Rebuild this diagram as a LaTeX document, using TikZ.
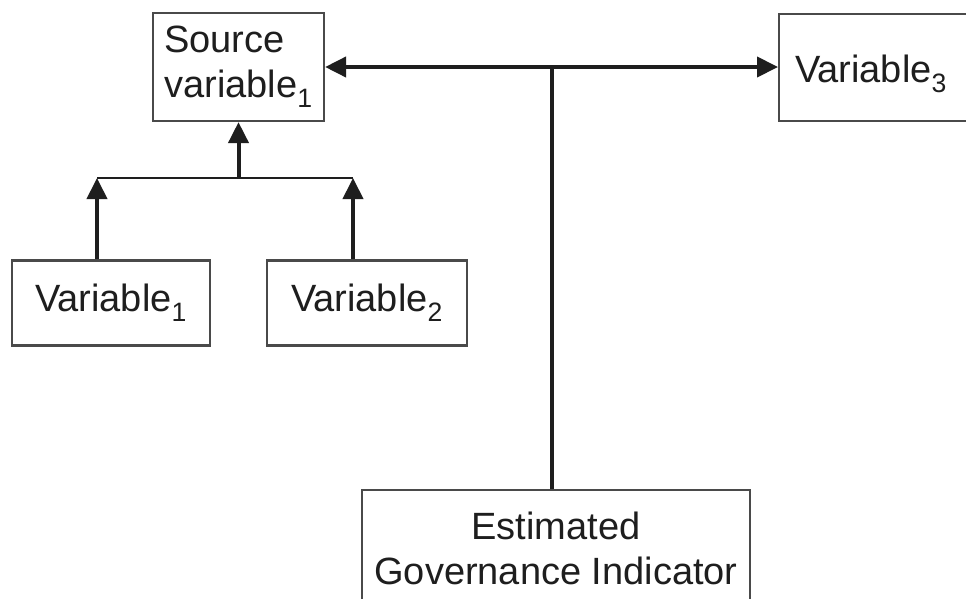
\documentclass[tikz,border=0pt]{standalone}
\usepackage{fontspec}
\setmainfont{Liberation Sans}
\usetikzlibrary{arrows.meta}
\definecolor{ink}{HTML}{1E1E1E}
\definecolor{frame}{HTML}{4A4A4A}
\tikzset{
  box/.style={draw=frame, line width=2.2pt, rectangle, inner sep=0pt,
    font=\fontsize{38}{45}\selectfont, text=ink},
  flow/.style={draw=ink, line width=4pt},
  thinflow/.style={draw=ink, line width=2.6pt},
  tip/.style={-{Triangle[length=21pt,width=20pt]}},
  tips/.style={{Triangle[length=21pt,width=20pt]}-{Triangle[length=21pt,width=20pt]}}
}
\begin{document}
\begin{tikzpicture}[x=1pt,y=-1pt]
\useasboundingbox[fill=white] (0,0) rectangle (966,598);

% boxes
\node[box, minimum width=171pt, minimum height=108pt, align=left] (src) at (238.5,67)
  {Source\\variable$_{\mathrm{1}}$};
\node[box, minimum width=198pt, minimum height=85pt] (v1) at (111,303)
  {Variable$_{\mathrm{1}}$};
\node[box, minimum width=200pt, minimum height=85pt] (v2) at (367,303)
  {Variable$_{\mathrm{2}}$};
\node[box, anchor=north west, inner xsep=16pt, text width=190pt, align=left,
  minimum height=107pt] (v3) at (778,13)
  {\raisebox{-6pt}[\height][\depth]{Variable$_{\mathrm{3}}$}};
\node[box, anchor=north, minimum width=388pt, minimum height=116pt, align=center]
  (egi) at (556,489) {Estimated\\Governance Indicator};

% hub of the top connector
\coordinate (hub) at (552,67);
\draw[flow] (egi.north -| hub) -- (hub);
\draw[flow, tips] (src.east) -- (v3.west |- src.east);

% fork below the source variable
\coordinate (fork) at (src.south |- 0,178);
\coordinate (f1) at ([xshift=-14pt]v1.north |- fork);
\coordinate (f2) at ([xshift=-14pt]v2.north |- fork);
\draw[thinflow] (f1) -- (f2);
\draw[flow, tip] ([xshift=-14pt]v1.north) -- (f1);
\draw[flow, tip] ([xshift=-14pt]v2.north) -- (f2);
\draw[flow, tip] (fork) -- (src.south);
\end{tikzpicture}
\end{document}
